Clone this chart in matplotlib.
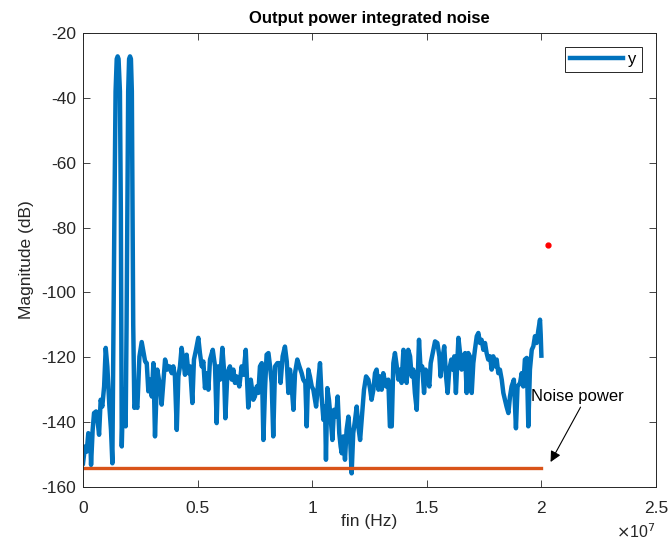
import numpy as np
import matplotlib
matplotlib.use("Agg")
import matplotlib.pyplot as plt
from matplotlib.ticker import FuncFormatter

plt.rcParams['font.family'] = ['Liberation Sans', 'DejaVu Sans']
plt.rcParams['axes.unicode_minus'] = False

# spectrum: frequency in MHz, magnitude in dB
freq_mhz = [
    0.0, 0.087, 0.16, 0.23, 0.31, 0.35, 0.42, 0.48, 0.57, 0.63, 0.70, 0.77, 0.84, 0.92, 0.99, 1.06, 1.15, 1.22, 1.28,
    1.33, 1.37, 1.42, 1.47, 1.51, 1.55, 1.61, 1.65, 1.69, 1.75, 1.80, 1.86,
    1.90, 1.94, 1.97, 2.01, 2.05, 2.09, 2.13, 2.16, 2.19, 2.24, 2.30, 2.37, 2.46, 2.56,
    2.71, 2.78, 2.85, 2.92, 3.00, 3.07, 3.14, 3.24, 3.36, 3.43, 3.58, 3.68, 3.77, 3.87, 3.94, 4.01, 4.09, 4.16,
    4.23, 4.30, 4.38, 4.45, 4.52, 4.60, 4.67, 4.77, 4.84, 4.93, 5.03, 5.10, 5.18, 5.25, 5.32, 5.40, 5.47, 5.54,
    5.66, 5.76, 5.83, 5.90, 5.98, 6.08, 6.15, 6.21, 6.30, 6.41, 6.49, 6.56, 6.63, 6.70, 6.82, 6.92, 7.00, 7.10,
    7.21, 7.32, 7.43, 7.50, 7.58, 7.65, 7.72, 7.80, 7.87, 7.94, 8.01, 8.09, 8.16, 8.23, 8.30, 8.38, 8.48, 8.57,
    8.62, 8.71, 8.81, 8.89, 8.96, 9.03, 9.10, 9.18, 9.25, 9.35, 9.44, 9.54, 9.61, 9.70, 9.76, 9.83, 9.90, 9.98,
    10.05, 10.17, 10.27, 10.34, 10.41, 10.49, 10.56, 10.60, 10.66, 10.73, 10.81, 10.88, 10.95, 11.04, 11.11,
    11.18, 11.24, 11.29, 11.36, 11.43, 11.50, 11.58, 11.65, 11.72, 11.79, 11.87, 11.94, 12.01, 12.09, 12.17,
    12.26, 12.35, 12.45, 12.52, 12.59, 12.67, 12.74, 12.81, 12.89, 12.96, 13.03, 13.10, 13.22, 13.32, 13.39,
    13.47, 13.54, 13.61, 13.69, 13.76, 13.83, 13.90, 13.98, 14.05, 14.12, 14.19, 14.27, 14.34, 14.41, 14.48,
    14.56, 14.66, 14.73, 14.80, 14.88, 14.95, 15.02, 15.11, 15.17, 15.26, 15.36, 15.46, 15.55, 15.60, 15.68,
    15.76, 15.84, 15.91, 15.98, 16.07, 16.13, 16.20, 16.27, 16.38, 16.45, 16.52, 16.59, 16.67, 16.74, 16.81,
    16.88, 16.96, 17.03, 17.10, 17.18, 17.25, 17.32, 17.39, 17.47, 17.54, 17.61, 17.68, 17.76, 17.83, 17.90,
    17.98, 18.05, 18.12, 18.19, 18.27, 18.34, 18.41, 18.48, 18.56, 18.63, 18.70, 18.80, 18.89, 18.96, 19.07,
    19.14, 19.21, 19.28, 19.36, 19.43, 19.50, 19.58, 19.65, 19.72, 19.79, 19.87, 19.94, 19.97, 20.0,
]
mag_db = [
    -152.7, -147.5, -149.1, -143.4, -143.9, -153.2, -142.4, -137.2, -136.7, -139.3, -143.9, -133.1, -135.2, -129.0, -117.1, -122.8, -135.2, -142.4, -152.7,
    -110.0, -75.0, -38.0, -28.0, -27.2, -28.0, -38.0, -75.0, -147.5, -130.0, -136.0, -141.3,
    -110.0, -70.0, -38.0, -28.0, -27.2, -28.0, -38.0, -75.0, -110.0, -135.6, -134.0, -135.6, -119.8, -115.3,
    -121.3, -121.8, -130.5, -126.9, -132.1, -121.8, -144.4, -123.8, -129.0, -134.6, -120.7, -123.8, -122.8, -124.9, -122.8, -125.9, -142.4, -125.9,
    -122.8, -117.1, -121.3, -125.4, -119.2, -124.9, -122.8, -134.1, -120.7, -117.7, -114.0, -118.7, -122.8, -121.3, -129.5, -124.9, -130.0, -120.7,
    -117.7, -122.8, -140.3, -122.8, -126.9, -117.1, -123.8, -138.8, -124.9, -122.8, -126.9, -123.8, -127.9, -125.9, -129.0, -122.8, -125.4, -117.7,
    -135.5, -126.9, -133.1, -132.1, -129.0, -131.0, -122.8, -121.8, -145.5, -130.0, -119.2, -118.7, -122.8, -127.9, -144.4, -122.8, -121.8, -121.8,
    -127.9, -119.7, -116.7, -121.3, -131.0, -123.8, -128.5, -136.2, -124.9, -120.7, -122.8, -124.9, -126.9, -127.9, -141.3, -123.8, -125.9, -129.0,
    -130.0, -135.2, -126.9, -121.8, -132.1, -139.3, -135.2, -151.6, -129.5, -133.1, -139.3, -145.5, -136.2, -138.3, -132.1,
    -143.4, -147.5, -149.6, -144.4, -151.6, -142.4, -138.3, -144.4, -155.8, -143.4, -139.3, -135.2, -141.3, -145.5, -138.3,
    -130.0, -125.9, -126.9, -129.5, -133.1, -130.0, -124.9, -123.8, -130.0, -125.9, -130.0, -124.9, -129.0, -126.9, -141.3,
    -141.3, -121.8, -118.7, -122.8, -126.9, -123.8, -127.9, -117.7, -118.7, -127.9, -117.7, -119.7, -125.9, -123.8, -131.0,
    -136.2, -114.6, -123.8, -122.8, -131.0, -123.8, -125.9, -129.0, -121.8, -118.7, -115.1, -115.6, -119.7, -125.9, -120.7,
    -116.6, -125.9, -131.0, -123.8, -120.7, -123.8, -119.7, -131.0, -114.0, -118.7, -123.8, -119.7, -118.7, -131.0, -118.7,
    -119.7, -131.0, -121.8, -117.7, -113.5, -112.5, -115.6, -114.6, -117.7, -115.6, -118.7, -120.7, -119.7, -123.8, -119.7,
    -122.8, -120.7, -124.9, -123.8, -126.9, -131.0, -133.1, -135.2, -137.2, -132.1, -129.0, -126.9, -141.9, -129.0, -127.9,
    -124.9, -129.0, -120.7, -120.2, -141.3, -123.8, -117.7, -116.6, -113.5, -115.6, -111.5, -108.4, -113.0, -119.5,
]

# integrated noise power level
noise_freq_mhz = [0.0, 20.0]
noise_db = [-154.2, -154.2]

# stray marker and annotation
dot_freq_mhz = [20.3]
dot_db = [-85.5]
label_text = "Noise power"

fig = plt.figure(figsize=(6.68, 5.44), dpi=100)
ax = fig.add_axes([0.1243, 0.1048, 0.8577, 0.8345])

x = np.array(freq_mhz) * 1e6
ax.plot(x, mag_db, color="#0072BD", lw=3.2, label="y", solid_joinstyle="round")
ax.plot(np.array(noise_freq_mhz) * 1e6, noise_db, color="#D95319", lw=2.4)
ax.plot(np.array(dot_freq_mhz) * 1e6, dot_db, "o", color="red", ms=3.5)

ax.annotate(label_text, xy=(20.4e6, -152.3), xytext=(19.55e6, -132.2),
            fontsize=12, va="center", ha="left",
            arrowprops=dict(arrowstyle="-|>", color="black", lw=0.8,
                            shrinkA=0, shrinkB=0, mutation_scale=16,
                            relpos=(0.55, 0.0)))

ax.set_xlim(0, 2.5e7)
ax.set_ylim(-160, -20)
ax.set_xticks(np.arange(0, 2.5e7 + 1, 0.5e7))
ax.set_yticks(np.arange(-160, -19, 20))
ax.xaxis.set_major_formatter(FuncFormatter(lambda v, _: f"{v/1e7:g}"))
fig.text(636 / 668, 1 - 532 / 544, r"$\times$10$^{7}$", ha="center",
         va="center", fontsize=11.5, color="#262626")

ax.tick_params(direction="in", top=True, right=True, length=5, width=0.6,
               labelsize=12.5, colors="#262626")
ax.tick_params(axis="x", pad=10)
ax.tick_params(axis="y", pad=5)
for s in ax.spines.values():
    s.set_color("#262626")
    s.set_linewidth(0.7)

ax.set_title("Output power integrated noise", fontsize=12, fontweight="bold", pad=7)
ax.set_xlabel("fin (Hz)", fontsize=12.5, color="#262626")
ax.set_ylabel("Magnitude (dB)", fontsize=12.5, color="#262626")
ax.xaxis.set_label_coords(0.5, -0.06)
ax.yaxis.label.set_va("center")
ax.yaxis.set_label_coords(-0.098, 0.5)

leg = ax.legend(loc="upper right", fontsize=12, handlelength=3.2,
                fancybox=False, framealpha=1, borderaxespad=0.85,
                borderpad=0.3, handletextpad=0.3)
leg.get_frame().set_edgecolor("#262626")
leg.get_frame().set_linewidth(0.7)

fig.savefig("out.png", dpi=100)
